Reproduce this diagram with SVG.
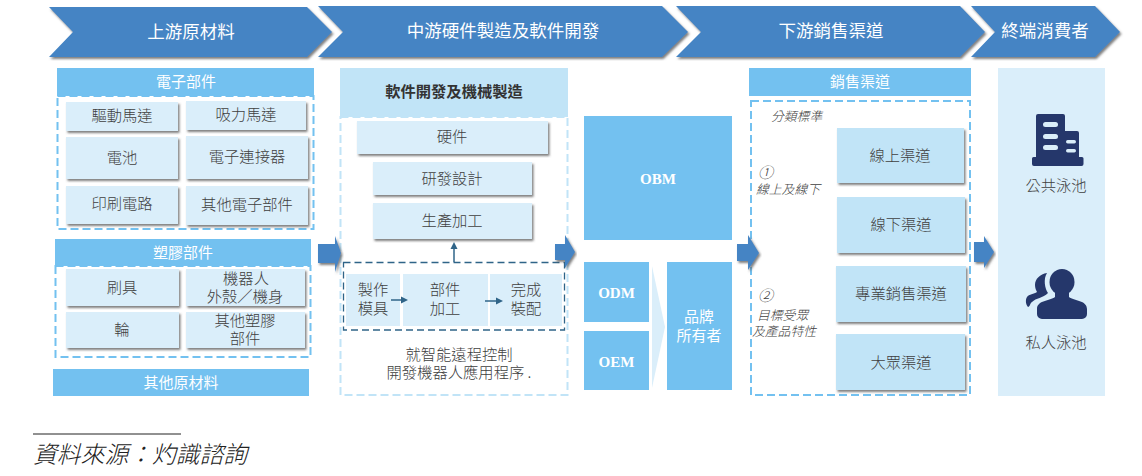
<svg xmlns="http://www.w3.org/2000/svg" width="1142" height="476" viewBox="0 0 1142 476">
<defs>
<filter id="sh" x="-10%" y="-15%" width="120%" height="135%"><feDropShadow dx="1.5" dy="2" stdDeviation="1" flood-color="#555" flood-opacity="0.75"/></filter>
</defs>
<style>
text{font-family:"Noto Sans CJK TC","Noto Sans CJK SC",sans-serif;text-anchor:middle}
.chev{fill:#4484C4;filter:url(#sh)}
.chevt{fill:#fff;font-size:17.5px}
.hd{fill:#73C1F0}
.hdt{fill:#fff;font-size:15px}
.dash{fill:#fff;stroke:#73C1F0;stroke-width:2;stroke-dasharray:8 4}
.dashl{fill:#fff;stroke:#C1E4F7;stroke-width:2;stroke-dasharray:8 4}
.box{fill:#DAEEFA;filter:url(#sh)}
.boxb{fill:#C1E4F7;filter:url(#sh)}
.t{fill:#404040;font-size:15.3px;font-weight:300}
.it{fill:#404040;font-size:12.8px;font-style:italic;font-weight:300;text-anchor:start}
.blk{fill:#4484C4;filter:url(#sh)}
.line{fill:none;stroke:#2F6488;stroke-width:1.5}
.head{fill:#2F6488}
.ser{fill:#fff;font:bold 15px "Liberation Serif",serif;text-anchor:middle}
.ic{fill:#25376B}
.win{fill:#DAEEFA}
</style>

<g id="stage-upstream"><polygon class="chev" points="49,7 307,7 332,32 307,57 49,57 73,32"/><text class="chevt" x="191" y="38">上游原材料</text></g>
<g id="stage-midstream"><polygon class="chev" points="318,6 662,6 688,32 662,57 318,57 343,32"/><text class="chevt" x="503" y="37">中游硬件製造及軟件開發</text></g>
<g id="stage-downstream"><polygon class="chev" points="676,6 960,6 985,32 960,57 676,57 701,32"/><text class="chevt" x="831" y="37">下游銷售渠道</text></g>
<g id="stage-consumer"><polygon class="chev" points="971,6 1095,6 1120,32 1095,57 971,57 995,32"/><text class="chevt" x="1045" y="37">終端消費者</text></g>

<g id="electronic-parts">
<rect class="dash" x="57.500" y="96" width="256" height="133"/>
<rect class="hd" x="57" y="68" width="257" height="28"/><text class="hdt" x="186" y="87">電子部件</text>
<rect class="box" x="66" y="102" width="112" height="29"/><text class="t" x="122" y="121">驅動馬達</text>
<rect class="box" x="186" y="101" width="120" height="29"/><text class="t" x="246" y="120">吸力馬達</text>
<rect class="box" x="66" y="137" width="112" height="42"/><text class="t" x="122" y="163">電池</text>
<rect class="box" x="186" y="136" width="122" height="43"/><text class="t" x="247" y="162">電子連接器</text>
<rect class="box" x="66" y="186" width="112" height="38"/><text class="t" x="122" y="209">印刷電路</text>
<rect class="box" x="186" y="186" width="122" height="39"/><text class="t" x="247" y="210">其他電子部件</text>
</g>

<g id="plastic-parts">
<rect class="dash" x="55.500" y="266" width="255" height="91"/>
<rect class="hd" x="55" y="239" width="256" height="27"/><text class="hdt" x="183" y="258">塑膠部件</text>
<rect class="box" x="66" y="269" width="113" height="37"/><text class="t" x="122" y="293">刷具</text>
<rect class="box" x="186" y="269" width="119" height="37"/><text class="t"><tspan x="246" y="284">機器人</tspan><tspan x="245" y="302">外殼／機身</tspan></text>
<rect class="box" x="66" y="312" width="113" height="36"/><text class="t" x="122" y="335">輪</text>
<rect class="box" x="186" y="312" width="119" height="36"/><text class="t"><tspan x="245" y="326">其他塑膠</tspan><tspan x="245" y="344">部件</tspan></text>
</g>

<g id="other-materials"><rect class="hd" x="53" y="369" width="256" height="27"/><text class="hdt" x="181" y="388">其他原材料</text></g>

<g id="software-mfg">
<rect class="dashl" x="340.500" y="117" width="227" height="278"/>
<rect x="340" y="68" width="228" height="49" fill="#C1E4F7"/><text x="454" y="97" style="font-size:15.3px;font-weight:700;fill:#333">軟件開發及機械製造</text>
</g>
<g id="hardware"><rect class="box" x="357" y="121" width="191" height="33"/><text class="t" x="452" y="142">硬件</text></g>
<g id="rnd"><rect class="box" x="373" y="162" width="159" height="33"/><text class="t" x="452" y="184">研發設計</text></g>
<g id="production"><rect class="box" x="373" y="203" width="159" height="36"/><text class="t" x="452" y="226">生產加工</text></g>
<g id="process-frame"><rect x="343.500" y="262.500" width="221" height="67.500" fill="#fff" stroke="#2F6488" stroke-width="1.300" stroke-dasharray="7 4"/></g>
<g id="mould"><rect x="346" y="274" width="54" height="52" fill="#DAEEFA"/><text class="t"><tspan x="373" y="295">製作</tspan><tspan x="373" y="314">模具</tspan></text></g>
<g id="parts-processing"><rect x="403" y="274" width="85" height="52" fill="#DAEEFA"/><text class="t"><tspan x="445" y="295">部件</tspan><tspan x="445" y="314">加工</tspan></text></g>
<g id="assembly"><rect x="490" y="274" width="72" height="52" fill="#DAEEFA"/><text class="t"><tspan x="526" y="295">完成</tspan><tspan x="526" y="314">裝配</tspan></text></g>
<g id="app-note"><text class="t"><tspan x="459" y="360">就智能遠程控制</tspan><tspan x="459" y="378">開發機器人應用程序 .</tspan></text></g>

<g id="obm"><rect class="hd" x="584" y="116" width="148" height="124"/><text class="ser" x="658" y="184">OBM</text></g>
<g id="odm"><rect class="hd" x="584" y="262" width="65" height="60"/><text class="ser" x="616.500" y="298">ODM</text></g>
<g id="oem"><rect class="hd" x="584" y="331" width="65" height="59"/><text class="ser" x="616.500" y="367">OEM</text></g>
<g id="brand-owner"><rect class="hd" x="667" y="262" width="65" height="128"/><text style="fill:#fff;font-size:15px"><tspan x="699" y="322">品牌</tspan><tspan x="699" y="341">所有者</tspan></text></g>

<g id="sales-channels">
<rect class="dash" x="751" y="101" width="219" height="294"/>
<rect class="hd" x="749" y="68" width="222" height="28"/><text class="hdt" x="860" y="87">銷售渠道</text>
<text class="it" x="771" y="121">分類標準</text>
<text class="it" x="758" y="178" style="font-size:15px">①</text><text class="it" x="756" y="194">線上及線下</text>
<text class="it" x="758" y="301" style="font-size:15px">②</text><text class="it" x="757" y="320">目標受眾</text><text class="it" x="752" y="336">及產品特性</text>
</g>
<g id="online"><rect class="boxb" x="837" y="128" width="127" height="55"/><text class="t" x="900" y="161">線上渠道</text></g>
<g id="offline"><rect class="boxb" x="837" y="197" width="128" height="56"/><text class="t" x="901" y="230">線下渠道</text></g>
<g id="professional"><rect class="boxb" x="836" y="266" width="130" height="56"/><text class="t" x="901" y="299">專業銷售渠道</text></g>
<g id="mass"><rect class="boxb" x="836" y="334" width="129" height="56"/><text class="t" x="901" y="368">大眾渠道</text></g>

<g id="consumers"><rect x="998" y="68" width="107" height="328" fill="#DAEEFA"/></g>
<g id="public-pool">
<path class="ic" d="M1038 114H1063a2 2 0 0 1 2 2V131H1077a2 2 0 0 1 2 2V157H1082a1.500 1.500 0 0 1 1.500 1.500V164a2 2 0 0 1-2 2H1034a2 2 0 0 1-2-2V158.500A1.500 1.500 0 0 1 1033.500 157H1036V116a2 2 0 0 1 2-2Z"/>
<rect class="win" x="1043" y="122" width="15" height="5" rx="2.500"/><rect class="win" x="1043" y="134" width="15" height="5" rx="2.500"/><rect class="win" x="1043" y="145" width="15" height="5" rx="2.500"/>
<rect class="win" x="1066" y="140" width="10" height="3.500" rx="1.700"/><rect class="win" x="1066" y="149" width="10" height="3.500" rx="1.700"/>
<text class="t" x="1056" y="191">公共泳池</text>
</g>
<g id="private-pool">
<path class="ic" d="M1047 273C1040 274 1035 279 1035 285C1035 288 1036 290 1037 292C1034 294 1029 294 1027 297C1025 300 1026 305 1028 307C1030 307 1030 303 1032 302C1036 298 1043 298 1048 293C1045 289 1043 279 1047 273Z"/>
<ellipse class="ic" cx="1062" cy="282" rx="12.500" ry="13"/>
<path class="ic" d="M1055 292H1069V297C1074 301 1087 300 1087 309V314a5 5 0 0 1-5 5H1042a5 5 0 0 1-5-5V309C1037 300 1050 301 1055 297Z"/>
<text class="t" x="1056" y="348">私人泳池</text>
</g>

<g id="connectors">
<path class="line" d="M454 262V248"/><polygon class="head" points="454,242 450.500,249 457.500,249"/>
<path class="line" d="M391 300H402"/><polygon class="head" points="408,300 401,296.500 401,303.500"/>
<path class="line" d="M485 301H497"/><polygon class="head" points="503,301 496,297.500 496,304.500"/>
<polygon class="blk" points="318,244 335,244 335,236 341,253 335,272 335,263 318,263"/>
<polygon class="blk" points="555,244 565,244 565,235 575,252 565,268 565,260 555,260"/>
<polygon class="blk" points="737,244 748,244 748,235 759,253 748,270 748,261 737,261"/>
<polygon class="blk" points="974,242 984,242 984,236 994,252 984,268 984,262 974,262"/>
<polygon points="652,266 665,327 652,388" fill="#DAEEFA"/>
</g>

<g id="source">
<line x1="33" y1="434" x2="181" y2="434" stroke="#222" stroke-width="1"/>
<text x="33" y="463" style="text-anchor:start;font-size:23.800px;font-style:italic;font-weight:300;fill:#222">資料來源：灼識諮詢</text>
</g>
</svg>
